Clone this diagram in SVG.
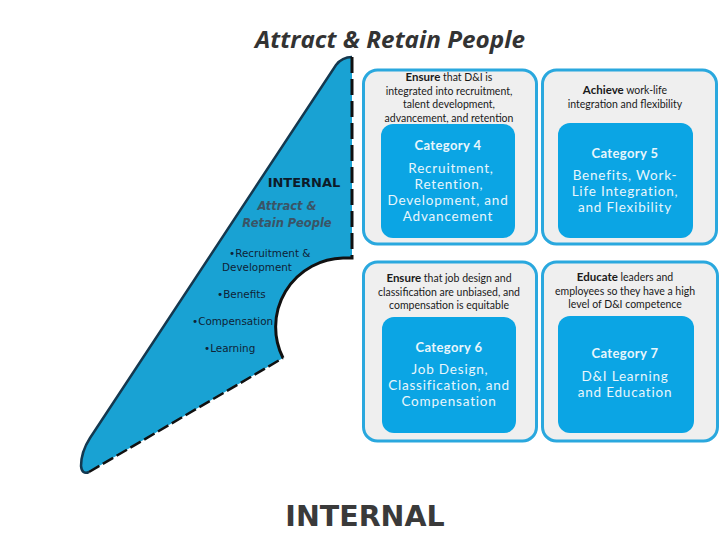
<svg xmlns="http://www.w3.org/2000/svg" width="720" height="540" viewBox="0 0 720 540">
<style>
.outer{fill:#efefef;stroke:#2aa8de;stroke-width:3}
.inner{fill:#0ba5e4}
.lead{font-family:"Lato","Open Sans","Liberation Sans",sans-serif;font-size:10.5px;fill:#1a1a1a;text-anchor:middle}
.lead .b{font-weight:bold;font-size:11.5px}
.cat{font-family:"Lato","Open Sans","Liberation Sans",sans-serif;font-size:13px;font-weight:bold;fill:#e8f6fc;text-anchor:middle;letter-spacing:0.4px}
.body{font-family:"Lato","Open Sans","Liberation Sans",sans-serif;font-size:13.5px;fill:#e8f6fc;text-anchor:middle;letter-spacing:0.8px}
.bul{font-family:"DejaVu Sans","Verdana",sans-serif;font-size:10.4px;fill:#0f2236}
</style>
<rect width="720" height="540" fill="#ffffff"/>
<g id="title">
<text x="390" y="48" font-family="'Open Sans','Liberation Sans',sans-serif" font-size="23" font-weight="bold" font-style="italic" fill="#333333" text-anchor="middle" textLength="270" lengthAdjust="spacingAndGlyphs">Attract &amp; Retain People</text>
</g>
<g id="internal-shape">
<path d="M352,57 L352,258 L343,258 A69 69 0 0 0 283,358 L89,472 Q82,475 81,466 Q81,452 90,438 L336,65 Q342,57 352,57 Z" fill="#19a2d3"/>
<path d="M352,57 Q342,57 336,65 L90,438 Q81,452 81,466 Q82,475 89,472" fill="none" stroke="#14384f" stroke-width="2.5"/>
<path d="M89,472 L283,358" fill="none" stroke="#111111" stroke-width="2.5" stroke-dasharray="12 4"/>
<path d="M343,258 A69 69 0 0 0 283,358" fill="none" stroke="#111111" stroke-width="3"/>
<path d="M352,57 L352,258 L343,258" fill="none" stroke="#111111" stroke-width="3" stroke-dasharray="16 6"/>
<text x="304" y="187" font-family="'DejaVu Sans',Verdana,sans-serif" font-size="13" font-weight="bold" fill="#0d1b2a" text-anchor="middle">INTERNAL</text>
<text x="287" y="210" font-family="'DejaVu Sans',Verdana,sans-serif" font-size="11.5" font-weight="bold" font-style="italic" fill="#3a5466" text-anchor="middle">Attract &amp;</text>
<text x="287" y="227" font-family="'DejaVu Sans',Verdana,sans-serif" font-size="11.5" font-weight="bold" font-style="italic" fill="#3a5466" text-anchor="middle">Retain People</text>
<text class="bul" x="229" y="257">•Recruitment &amp;</text>
<text class="bul" x="222" y="271">Development</text>
<text class="bul" x="217" y="298">•Benefits</text>
<text class="bul" x="192" y="325">•Compensation</text>
<text class="bul" x="204" y="352">•Learning</text>
</g>
<g id="cat4">
<rect class="outer" x="363.5" y="70" width="173" height="174" rx="14"/>
<rect class="inner" x="381" y="124" width="134" height="114" rx="12"/>
<text class="lead" x="449" y="81"><tspan class="b">Ensure</tspan> that D&amp;I is</text>
<text class="lead" x="449" y="94.5">integrated into recruitment,</text>
<text class="lead" x="449" y="108">talent development,</text>
<text class="lead" x="449" y="121.5">advancement, and retention</text>
<text class="cat" x="448" y="150">Category 4</text>
<text class="body" x="451" y="173">Recruitment,</text>
<text class="body" x="449" y="189">Retention,</text>
<text class="body" x="448" y="205">Development, and</text>
<text class="body" x="448" y="221">Advancement</text>
</g>
<g id="cat5">
<rect class="outer" x="542.5" y="70" width="174" height="174" rx="14"/>
<rect class="inner" x="558" y="123" width="135" height="115" rx="12"/>
<text class="lead" x="625" y="94"><tspan class="b">Achieve</tspan> work-life</text>
<text class="lead" x="625" y="108">integration and flexibility</text>
<text class="cat" x="625" y="158">Category 5</text>
<text class="body" x="625" y="180">Benefits, Work-</text>
<text class="body" x="625" y="196">Life Integration,</text>
<text class="body" x="625" y="212">and Flexibility</text>
</g>
<g id="cat6">
<rect class="outer" x="363.5" y="262" width="173" height="179" rx="14"/>
<rect class="inner" x="382" y="317" width="134" height="116" rx="12"/>
<text class="lead" x="449" y="282"><tspan class="b">Ensure</tspan> that job design and</text>
<text class="lead" x="449" y="296">classification are unbiased, and</text>
<text class="lead" x="449" y="309">compensation is equitable</text>
<text class="cat" x="449" y="352">Category 6</text>
<text class="body" x="450" y="374">Job Design,</text>
<text class="body" x="449" y="390">Classification, and</text>
<text class="body" x="449" y="406">Compensation</text>
</g>
<g id="cat7">
<rect class="outer" x="542.5" y="262" width="175" height="179" rx="14"/>
<rect class="inner" x="558" y="316" width="136" height="117" rx="12"/>
<text class="lead" x="625" y="281"><tspan class="b">Educate</tspan> leaders and</text>
<text class="lead" x="625" y="295">employees so they have a high</text>
<text class="lead" x="625" y="308">level of D&amp;I competence</text>
<text class="cat" x="625" y="358">Category 7</text>
<text class="body" x="625" y="381">D&amp;I Learning</text>
<text class="body" x="625" y="397">and Education</text>
</g>
<g id="footer">
<text x="365" y="526" font-family="'DejaVu Sans',Verdana,sans-serif" font-size="28.5" font-weight="bold" fill="#3a3a3a" text-anchor="middle">INTERNAL</text>
</g>
<g id="connectors"/>
</svg>
